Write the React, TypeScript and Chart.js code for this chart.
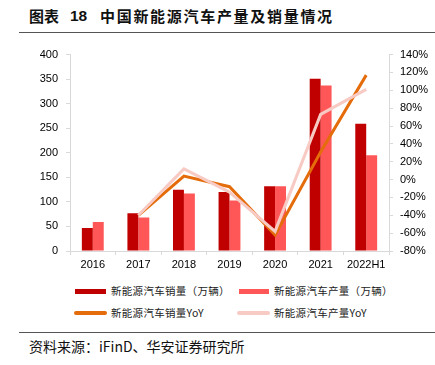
import React, { useEffect, useRef } from "react";
import { Chart, registerables } from "chart.js";

Chart.register(...registerables);

const categories = ["2016", "2017", "2018", "2019", "2020", "2021", "2022H1"];
const salesVolume = [47, 77, 125, 120, 132, 351, 259];
const productionVolume = [59, 68, 117, 103, 132, 337, 195];
const salesYoY = [null, -40, 4, -8, -62, 31, 117];
const productionYoY = [null, -40, 12, -14, -58, 73, 101];

const seriesNames = [
  "新能源汽车销量（万辆）",
  "新能源汽车产量（万辆）",
  "新能源汽车销量YoY",
  "新能源汽车产量YoY",
];

const C_DARK = "#C00000";
const C_LIGHT = "#FF5757";
const C_ORANGE = "#E46C0A";
const C_PINK = "#F8CAC4";
const AXIS = "#D9D9D9";
const TICK_FONT = { family: "'Liberation Sans', Arial, sans-serif", size: 11 };

export default function App() {
  const ref = useRef<HTMLCanvasElement | null>(null);

  useEffect(() => {
    const ctx = ref.current!.getContext("2d")!;
    const chart = new Chart(ctx, {
      type: "bar",
      data: {
        labels: categories,
        datasets: [
          {
            type: "line",
            label: seriesNames[3],
            data: productionYoY as any,
            yAxisID: "y1",
            borderColor: C_PINK,
            backgroundColor: C_PINK,
            borderWidth: 3,
            pointRadius: 0,
            tension: 0,
            order: 0,
          },
          {
            type: "line",
            label: seriesNames[2],
            data: salesYoY as any,
            yAxisID: "y1",
            borderColor: C_ORANGE,
            backgroundColor: C_ORANGE,
            borderWidth: 3,
            pointRadius: 0,
            tension: 0,
            order: 1,
          },
          {
            type: "bar",
            label: seriesNames[0],
            data: salesVolume,
            yAxisID: "y",
            backgroundColor: C_DARK,
            categoryPercentage: 0.48,
            barPercentage: 1.0,
            order: 2,
          },
          {
            type: "bar",
            label: seriesNames[1],
            data: productionVolume,
            yAxisID: "y",
            backgroundColor: C_LIGHT,
            categoryPercentage: 0.48,
            barPercentage: 1.0,
            order: 3,
          },
        ],
      },
      options: {
        responsive: false,
        animation: false,
        devicePixelRatio: 1,
        layout: { padding: { top: 11, left: 0, right: 0, bottom: 0 } },
        plugins: {
          legend: { display: false },
          tooltip: { enabled: false },
        },
        scales: {
          x: {
            offset: true,
            grid: {
              display: true,
              offset: true,
              drawOnChartArea: false,
              color: AXIS,
              tickLength: 4,
            },
            border: { color: AXIS },
            ticks: { color: "#000", font: TICK_FONT, padding: 3, maxRotation: 0 },
            afterFit: (s: any) => {
              s.height = 29;
            },
          },
          y: {
            position: "left",
            min: 0,
            max: 400,
            ticks: { stepSize: 50, color: "#000", font: TICK_FONT, padding: 8 },
            grid: { drawOnChartArea: false, color: AXIS, tickLength: 4 },
            border: { color: AXIS },
            afterFit: (s: any) => {
              s.width = 70;
            },
          },
          y1: {
            position: "right",
            min: -80,
            max: 140,
            ticks: {
              stepSize: 20,
              color: "#000",
              font: TICK_FONT,
              padding: 7,
              callback: (v: any) => `${v}%`,
            },
            grid: { drawOnChartArea: false, color: AXIS, tickLength: 4 },
            border: { color: AXIS },
            afterFit: (s: any) => {
              s.width = 46;
            },
          },
        },
      },
    });
    return () => chart.destroy();
  }, []);

  const cjk = "'Noto Sans CJK SC', 'Noto Sans', sans-serif";
  const legendText: React.CSSProperties = {
    position: "absolute",
    fontFamily: cjk,
    fontSize: 10.5,
    letterSpacing: 0.3,
    color: "#222",
    lineHeight: "12px",
    whiteSpace: "nowrap",
  };
  const swatch = (left: number, top: number, w: number, h: number, color: string, round = false): React.CSSProperties => ({
    position: "absolute",
    left,
    top,
    width: w,
    height: h,
    background: color,
    borderRadius: round ? h / 2 : 0,
  });
  const titleStyle: React.CSSProperties = {
    position: "absolute",
    top: 6,
    fontFamily: cjk,
    fontWeight: 700,
    fontSize: 15,
    lineHeight: "20px",
    color: "#111",
    whiteSpace: "nowrap",
  };

  return (
    <div
      style={{
        position: "fixed",
        left: 0,
        top: 0,
        width: 435,
        height: 365,
        background: "#fff",
        overflow: "hidden",
      }}
    >
      <div style={{ ...titleStyle, left: 29 }}>图表</div>
      <div style={{ ...titleStyle, left: 70, fontFamily: "'Liberation Sans', Arial, sans-serif", fontSize: 15.5 }}>18</div>
      <div style={{ ...titleStyle, left: 100, letterSpacing: 1.7 }}>中国新能源汽车产量及销量情况</div>
      <div style={{ position: "absolute", left: 19, top: 32, width: 416, height: 1, background: "#555" }} />
      <canvas
        ref={ref}
        width={435}
        height={240}
        style={{ position: "absolute", left: 0, top: 40, width: 435, height: 240 }}
      />
      <div style={swatch(75, 289, 31, 5, C_DARK)} />
      <div style={{ ...legendText, left: 111, top: 285 }}>{seriesNames[0]}</div>
      <div style={swatch(239, 289, 30, 5, C_LIGHT)} />
      <div style={{ ...legendText, left: 274, top: 285 }}>{seriesNames[1]}</div>
      <div style={swatch(74, 311, 33, 4, C_ORANGE, true)} />
      <div style={{ ...legendText, left: 111, top: 307 }}>{seriesNames[2]}</div>
      <div style={swatch(237, 311, 33, 4, C_PINK, true)} />
      <div style={{ ...legendText, left: 274, top: 307 }}>{seriesNames[3]}</div>
      <div style={{ position: "absolute", left: 19, top: 332, width: 416, height: 1, background: "#555" }} />
      <div
        style={{
          position: "absolute",
          left: 29,
          top: 337,
          fontFamily: cjk,
          fontSize: 14,
          lineHeight: "18px",
          color: "#111",
          whiteSpace: "nowrap",
        }}
      >
        资料来源：iFinD、华安证券研究所
      </div>
    </div>
  );
}
